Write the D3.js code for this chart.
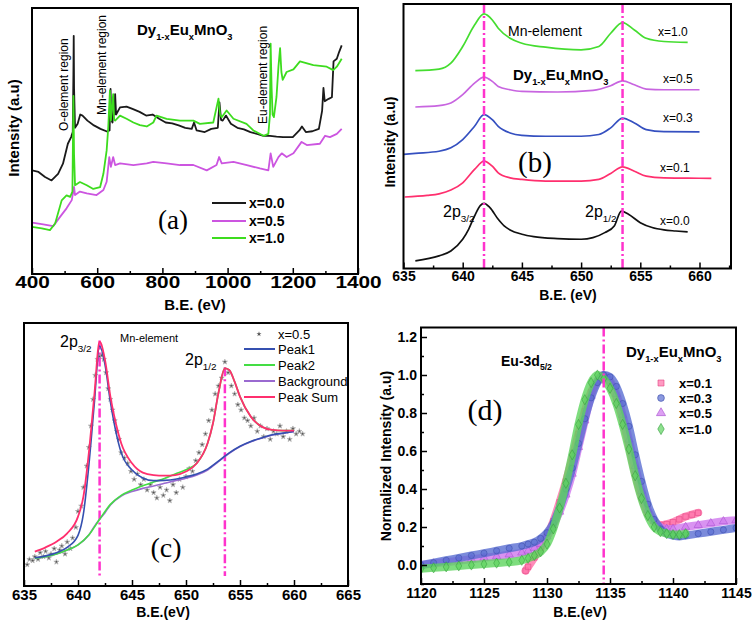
<!DOCTYPE html>
<html><head><meta charset="utf-8">
<script src="https://cdn.jsdelivr.net/npm/d3@7"></script>
<style>
body{margin:0;background:#fff}
svg{display:block}
text{font-family:"Liberation Sans",Arial,Helvetica,sans-serif}
</style>
</head><body>
<svg id="fig" width="756" height="631"></svg>
<script>
// ---------------- DATA ----------------
// Panel (a): survey spectra [B.E. eV, intensity a.u.]
const surveyX00 = [[400,39],[420,38.4],[440,36.5],[460,35.2],[480,37.7],[495,41.5],[510,49],[520,51.5],[525,53.4],[527,75],[528,89.6],[529,70],[532,55],[540,56.5],[548,60],[555,59.6],[570,57.7],[590,55.9],[610,54.6],[630,53.6],[638,54],[641,69.6],[643,58],[647,57],[650,64],[653,60],[655,67.7],[658,60],[670,62.7],[690,63],[710,62],[730,61],[750,59.6],[770,60],[790,58.4],[810,57],[830,56.7],[850,55.9],[870,55],[890,54.6],[897,57],[905,54],[930,53.4],[950,54.6],[970,55],[975,64.6],[980,58],[985,57.7],[995,59.6],[1010,56.5],[1030,55],[1050,54.4],[1070,53.4],[1090,52.7],[1110,52],[1130,52],[1150,51.7],[1170,51.5],[1200,51.5],[1220,54],[1228,55.5],[1240,53.4],[1260,53.7],[1280,54.6],[1290,61.5],[1294,70],[1298,65],[1310,65.9],[1320,66.5],[1325,80],[1335,81],[1342,83.5],[1350,86]];
const surveyX05 = [[400,19.3],[430,18.8],[465,18],[486,21.5],[506,24.7],[522,27.8],[529,32.8],[532,29.7],[547,31],[568,30.3],[598,29.7],[619,31.6],[629,34.7],[637,44],[642,40.3],[649,44],[655,41],[670,41.6],[711,41],[752,41.6],[772,42.2],[813,41.6],[854,41],[895,41],[936,39],[966,41],[974,44],[982,41.6],[1018,42.2],[1059,41],[1099,39.7],[1125,39],[1132,45.4],[1140,40.3],[1156,44],[1166,45.4],[1181,44],[1202,45.4],[1227,49.7],[1243,48.5],[1283,49],[1299,52],[1314,51.5],[1335,52.7],[1350,54.6]];
const surveyX10 = [[400,17.7],[430,17.2],[455,16.5],[471,19],[491,27.7],[506,29.6],[517,29],[524,31],[527,67],[529,45],[532,33.4],[547,34.6],[568,33.4],[588,32],[609,32.7],[619,37.7],[629,46.5],[634,55.3],[639,69],[642,57.7],[649,67.7],[652,58],[655,57.7],[670,59.6],[690,58.4],[711,57],[731,56],[752,55.5],[772,57],[782,59.6],[813,58.4],[854,57.7],[895,57.7],[915,56.5],[956,57],[972,66],[977,60],[982,59],[997,61.5],[1018,58.4],[1058,56.5],[1079,54],[1110,52],[1125,52.7],[1130,60],[1132,86.7],[1135,70],[1138,60],[1142,59],[1150,66.6],[1156,78],[1161,85],[1165,76],[1169,73],[1181,76],[1202,77],[1222,80],[1263,78.6],[1304,78],[1324,76.7],[1335,78],[1350,81]];
const surveyLabels = ["x=0.0","x=0.5","x=1.0"];
const surveyTicks = [400,600,800,1000,1200,1400];

// Panel (b): Mn 2p spectra (stacked)
const mnX00 = [[636,2.9],[638,4.75],[639,6.6],[640,11],[640.5,14.75],[641,19.75],[641.5,23.75],[641.8,24.5],[642.3,22.9],[643,18.5],[643.5,16],[644,14.5],[645,12.9],[646,12],[648,11.25],[650,11],[651,11.6],[652,13.5],[652.8,16],[653.4,21.6],[654,20.4],[655,17.25],[656,15.4],[657,14.5],[658,14.1],[659,13.75]];
const mnX01 = [[635.1,26.9],[637,27.5],[638,28.1],[639,29.5],[640,32.25],[641,37.25],[641.8,40.4],[642.5,38.5],[643,36],[644,34.1],[645,33.5],[647,32.9],[650,32.9],[651.5,33.5],[652.5,35.75],[653.5,38.25],[654.5,36.6],[655.5,34.75],[657,34.1],[659,34],[661,33.9]];
const mnX03 = [[635,42.9],[636,43.3],[638,44.1],[639,45.4],[640,48.5],[641,53.5],[641.8,57.9],[642.5,56],[643,53.5],[644,51],[645,50.1],[647,49.75],[650,49.75],[651.5,50.4],[652.5,52.9],[653.5,56.6],[654.5,54.75],[655.5,52.25],[657,51.5],[660,51.4]];
const mnX05 = [[636,60.75],[638,61.25],[639,62.25],[640,65.4],[641,69.75],[641.8,72],[642.5,70.4],[643,68.5],[644,67.25],[645,66.6],[648,66.4],[651,67],[652.5,68.75],[653.5,70.6],[654.5,69.1],[655.5,67.5],[657,67.25],[660,67.25]];
const mnX10 = [[636,74.4],[638,75],[639,77.25],[640,83.5],[641,91.6],[641.8,95.75],[642.5,93.5],[643,90.4],[644,86.6],[645,84.75],[647,83.25],[650,82.25],[651.5,83.5],[652.5,88.5],[653.5,92.5],[654.5,89.75],[655.5,86.6],[657,85.4],[659,85.1]];
const mnLabels = ["x=0.0","x=0.1","x=0.3","x=0.5","x=1.0"];
const mnPeaks = [641.8, 653.5];
const mnTicks = [635,640,645,650,655,660];

// Panel (c): fit of x=0.5 Mn 2p
const fitData = [[635.3,8],[635.5,10],[635.8,9.5],[636,11],[636.3,10],[636.5,12.5],[636.8,11],[637,13],[637.3,10.5],[637.5,12],[637.8,14],[638,9],[638.3,13.5],[638.5,15],[638.8,12],[639,16.5],[639.3,14],[639.5,18],[639.8,22],[640,28],[640.3,30],[640.5,37],[640.8,45],[641,52],[641.2,60],[641.4,70],[641.6,79],[641.8,85],[642,86],[642.2,86.5],[642.4,85],[642.6,80],[642.8,74],[643,70],[643.2,66],[643.4,62],[643.6,58],[643.8,55],[644,50],[644.3,48],[644.6,46],[644.9,43],[645.2,40],[645.5,42],[645.8,38],[646.1,40],[646.4,36],[646.7,38],[647,35],[647.3,33],[647.6,37],[647.9,34],[648.2,36],[648.5,32],[648.8,38],[649.1,35],[649.4,40],[649.7,37],[650,41],[650.3,44],[650.6,43],[650.9,47],[651.2,50],[651.5,53],[651.8,57],[652.1,62],[652.4,66],[652.7,72],[653,75],[653.3,78],[653.6,84],[653.9,80],[654.2,75],[654.5,72],[654.8,68],[655.1,66],[655.4,63],[655.7,62],[656,60],[656.3,63],[656.6,58],[656.9,60],[657.2,56],[657.5,59],[657.8,55],[658.1,58],[658.4,57],[658.7,60],[659,56],[659.3,58],[659.6,55],[659.9,59],[660.2,57],[660.5,58],[660.8,57]];
const fitPeak1 = [[636,10.6],[637,11.3],[638,12.5],[639,14.5],[640,19],[640.5,27],[641,45],[641.5,68],[642,90],[642.5,83],[643,69],[643.5,58],[644,50],[645,43.5],[646,40.5],[647,39.5],[648,39.6],[649,40],[650,40.9],[651,42],[652,43.8],[653,46.8],[654,49.9],[655,52.4],[656,54.2],[657,55.5],[658,56.7],[659,57.3],[660,57.9]];
const fitPeak2 = [[636,10.4],[637,11],[638,12],[639,13.5],[640,15.4],[641,19.1],[642,25],[643,30.6],[644,34],[645,36],[646,37.6],[647,39],[648,40.3],[649,42],[650,43.6],[651,46],[652,53.5],[652.5,61],[653,72.2],[653.6,81.6],[654,81],[654.5,76.6],[655,71],[656,63.5],[657,59.75],[658,58.5],[659,58.25],[660,58.25]];
const fitBackground = [[636,10.4],[637,11],[638,12],[639,13.5],[640,15.4],[641,19.1],[641.5,22.25],[642,25],[642.5,27.5],[643,30.4],[644,33.75],[645,35.4],[646,36.6],[647,37.5],[648,38.5],[649,39.5],[650,40.4],[651,41.6],[652,43.5],[653,46.6],[654,49.75],[655,52.25],[656,54.1],[657,55.4],[658,56.6],[659,57.25],[660,57.9]];
const fitSum = [[636,12.9],[637,14.5],[638,16.6],[639,19.75],[640,26],[640.5,33.5],[641,49.75],[641.5,71],[642,91.6],[642.5,84.75],[643,71],[643.5,61],[644,53.5],[645,46],[646,42.5],[647,41.6],[648,41.4],[649,41.6],[650,42.9],[651,46],[652,53.5],[652.5,61],[653,72.25],[653.6,81.6],[654,81],[654.5,76.6],[655,71],[656,63.5],[657,59.75],[658,58.5],[659,58.25],[660,58.25]];
const fitLabels = ["x=0.5","Peak1","Peak2","Background","Peak Sum"];
const fitPeaks = [642, 653.6];
const fitTicks = [635,640,645,650,655,660,665];

// Panel (d): Eu 3d5/2 normalized
const euX01 = [[1128.3,-0.03],[1128.5,-0.01],[1129,0.04],[1129.5,0.09],[1130,0.15],[1130.5,0.23],[1131,0.33],[1131.5,0.44],[1132,0.56],[1132.5,0.69],[1133,0.81],[1133.5,0.91],[1134,0.97],[1134.5,0.99],[1135,0.96],[1135.5,0.88],[1136,0.77],[1136.5,0.63],[1137,0.48],[1137.5,0.36],[1138,0.27],[1138.5,0.23],[1139,0.21],[1139.5,0.215],[1140,0.225],[1140.5,0.24],[1141,0.255],[1141.5,0.265],[1142,0.275]];
const euX03 = [[1120,0.0],[1121,0.012],[1122,0.025],[1123,0.037],[1124,0.05],[1125,0.062],[1126,0.075],[1127,0.088],[1128,0.1],[1128.5,0.11],[1129,0.12],[1129.5,0.14],[1130,0.17],[1130.5,0.22],[1131,0.3],[1131.5,0.4],[1132,0.51],[1132.5,0.64],[1133,0.77],[1133.5,0.88],[1134,0.96],[1134.5,1.0],[1135,0.99],[1135.5,0.94],[1136,0.85],[1136.5,0.73],[1137,0.58],[1137.5,0.44],[1138,0.32],[1138.5,0.24],[1139,0.19],[1139.5,0.165],[1140,0.155],[1140.5,0.15],[1141,0.155],[1142,0.165],[1143,0.175],[1144,0.185],[1145,0.195]];
const euX05 = [[1120,0.0],[1121,0.008],[1122,0.015],[1123,0.022],[1124,0.03],[1125,0.038],[1126,0.045],[1127,0.055],[1128,0.065],[1128.5,0.075],[1129,0.09],[1129.5,0.11],[1130,0.15],[1130.5,0.21],[1131,0.28],[1131.5,0.37],[1132,0.48],[1132.5,0.62],[1133,0.76],[1133.5,0.89],[1134,0.97],[1134.5,1.0],[1135,0.97],[1135.5,0.9],[1136,0.79],[1136.5,0.66],[1137,0.52],[1137.5,0.39],[1138,0.29],[1138.5,0.23],[1139,0.2],[1139.5,0.19],[1140,0.19],[1141,0.2],[1142,0.21],[1143,0.22],[1144,0.23],[1145,0.235]];
const euX10 = [[1120,-0.02],[1121,-0.015],[1122,-0.01],[1123,-0.005],[1124,0.0],[1125,0.005],[1126,0.01],[1127,0.015],[1128,0.025],[1128.5,0.035],[1129,0.05],[1129.5,0.07],[1130,0.11],[1130.5,0.19],[1131,0.3],[1131.5,0.43],[1132,0.58],[1132.5,0.74],[1133,0.87],[1133.5,0.96],[1134,1.0],[1134.5,0.98],[1135,0.93],[1135.5,0.85],[1136,0.74],[1136.5,0.61],[1137,0.47],[1137.5,0.35],[1138,0.26],[1138.5,0.2],[1139,0.175],[1139.5,0.165],[1140,0.16],[1140.5,0.16],[1141,0.165]];
const euLabels = ["x=0.1","x=0.3","x=0.5","x=1.0"];
const euPeak = 1134.5;
const euXTicks = [1120,1125,1130,1135,1140,1145];
const euYTicks = [0,0.2,0.4,0.6,0.8,1.0,1.2];

// ---------------- DRAWING ----------------
const svg = d3.select("#fig");
const MAG = "#ff33cc";
let clipId = 0;

function makeClip(x0,y0,x1,y1){
  const id = "clip"+(clipId++);
  svg.append("clipPath").attr("id",id).append("rect")
    .attr("x",x0).attr("y",y0).attr("width",x1-x0).attr("height",y1-y0);
  return "url(#"+id+")";
}
function xAxis(x, yPos, majors, minors, opt){
  const g = svg.append("g").attr("transform",`translate(0,${yPos})`);
  g.call(d3.axisBottom(x).tickValues(minors).tickSize(-3).tickFormat(""));
  const g2 = svg.append("g").attr("transform",`translate(0,${yPos})`);
  g2.call(d3.axisBottom(x).tickValues(majors).tickSize(-6).tickPadding(opt.pad||4).tickFormat(opt.fmt||d3.format("d")));
  [g,g2].forEach(gg=>{gg.select(".domain").remove(); gg.selectAll("line").attr("stroke","#000").attr("stroke-width",1.5);});
  g2.selectAll("text").attr("fill","#000").style("font-size",(opt.fs||14)+"px").style("font-weight","bold")
    .attr("font-family",null);
  if(opt.sx) g2.selectAll("text").attr("transform",`scale(${opt.sx},1)`);
}
function frame(x0,y0,x1,y1){
  svg.append("rect").attr("x",x0).attr("y",y0).attr("width",x1-x0).attr("height",y1-y0)
    .attr("fill","none").attr("stroke","#000").attr("stroke-width",2);
}
function txt(x,y,s,o={}){
  const t = svg.append("text").attr("x",x).attr("y",y).text(s)
    .style("font-size",(o.fs||12)+"px").style("font-weight",o.bold?"bold":"normal")
    .attr("text-anchor",o.anchor||"start").attr("fill",o.fill||"#000");
  if(o.serif) t.style("font-family","'Liberation Serif','Times New Roman',serif");
  if(o.rot) t.attr("transform",`rotate(${o.rot},${x},${y})`);
  return t;
}
// text with subscripts: parts = [[str, isSub], ...]
function subText(x,y,parts,o={}){
  const t = svg.append("text").attr("x",x).attr("y",y)
    .style("font-size",(o.fs||14)+"px").style("font-weight",o.bold?"bold":"normal")
    .attr("text-anchor",o.anchor||"start");
  let prevSub=false;
  parts.forEach(([s,sub])=>{
    const sp = t.append("tspan").text(s);
    const shift = (o.fs||14)*0.3;
    if(sub && !prevSub){ sp.attr("dy",shift).style("font-size",((o.fs||14)*0.62)+"px"); }
    else if(sub){ sp.style("font-size",((o.fs||14)*0.62)+"px"); }
    else if(!sub && prevSub){ sp.attr("dy",-shift); }
    prevSub=sub;
  });
  if(o.rot) t.attr("transform",`rotate(${o.rot},${x},${y})`);
  return t;
}
const formula = [["Dy",0],["1-x",1],["Eu",0],["x",1],["MnO",0],["3",1]];

// ============ Panel (a) ============
{
  const L=32,R=358,T=8,B=274;
  const x = d3.scaleLinear([400,1400],[L,R]);
  const y = d3.scaleLinear([0,100],[B,T+0.2]);
  const clip = makeClip(L,T,R,B);
  const line = d3.line().x(d=>x(d[0])).y(d=>y(d[1]));
  const series = [[surveyX00,"#1a1a1a"],[surveyX05,"#cc55e0"],[surveyX10,"#3ddc1e"]];
  const gl = svg.append("g").attr("clip-path",clip);
  [series[1],series[0],series[2]].forEach(([d,c])=>{
    gl.append("path").attr("d",line(d)).attr("fill","none").attr("stroke",c).attr("stroke-width",1.8).attr("stroke-linejoin","round");
  });
  frame(L,T,R,B);
  xAxis(x,B,surveyTicks,[500,700,900,1100,1300],{fs:16,sx:1.3,pad:3});
  txt(14,128,"Intensity (a.u)",{fs:15,bold:true,anchor:"middle",rot:-90}).attr("dy","0.35em");
  txt(195,310,"B.E. (eV)",{fs:15,bold:true,anchor:"middle"});
  txt(68,131,"O-element region",{fs:12,rot:-90});
  txt(106,115,"Mn-element region",{fs:12,rot:-90});
  txt(267,124,"Eu-element region",{fs:12,rot:-90});
  subText(137,35,formula,{fs:15,bold:true});
  txt(173,229,"(a)",{fs:27,serif:true,anchor:"middle"});
  const lg = [[203,"#1a1a1a"],[221,"#cc55e0"],[238,"#3ddc1e"]];
  lg.forEach(([yy,c],i)=>{
    svg.append("line").attr("x1",212).attr("x2",246).attr("y1",yy).attr("y2",yy).attr("stroke",c).attr("stroke-width",2);
    txt(249,yy+5,surveyLabels[i],{fs:14,bold:true});
  });
}

// ============ Panel (b) ============
{
  const L=403.5,R=731,T=4,B=268.5;
  const x = d3.scaleLinear([635,662.66],[L,R]);
  const y = d3.scaleLinear([0,99.5],[B,T]);
  const clip = makeClip(L,T,R,B);
  const line = d3.line().x(d=>x(d[0])).y(d=>y(d[1])).curve(d3.curveMonotoneX);
  const gl = svg.append("g").attr("clip-path",clip);
  const cols = ["#111","#ff2f6e","#3550c0","#c865e0","#45dd30"];
  [mnX00,mnX01,mnX03,mnX05,mnX10].forEach((d,i)=>{
    gl.append("path").attr("d",line(d)).attr("fill","none").attr("stroke",cols[i]).attr("stroke-width",1.7);
  });
  mnPeaks.forEach(p=>{
    gl.append("line").attr("x1",x(p)).attr("x2",x(p)).attr("y1",T).attr("y2",B)
      .attr("stroke",MAG).attr("stroke-width",2.5).attr("stroke-dasharray","9,3,2,3");
  });
  frame(L,T,R,B);
  xAxis(x,B,mnTicks,[637.5,642.5,647.5,652.5,657.5,662.5],{fs:14,pad:3});
  txt(390,142,"Intensity (a.u)",{fs:14,bold:true,anchor:"middle",rot:-90}).attr("dy","0.35em");
  txt(568,300,"B.E. (eV)",{fs:14,bold:true,anchor:"middle"});
  txt(508,36,"Mn-element",{fs:14});
  subText(513,80,formula,{fs:15,bold:true});
  const lab = [[660,225],[660,172],[663,122],[663,83],[658,36]];
  lab.forEach(([lx,ly],i)=>txt(lx,ly,mnLabels[i],{fs:12}));
  txt(535,172,"(b)",{fs:29,serif:true,anchor:"middle"});
  subText(443,217,[["2p",0],["3/2",1]],{fs:16});
  subText(585,217,[["2p",0],["1/2",1]],{fs:16});
}

// ============ Panel (c) ============
{
  const L=24,R=348,T=323,B=586;
  const x = d3.scaleLinear([635,665],[L,R]);
  const y = d3.scaleLinear([0,98.6],[B,T]);
  const clip = makeClip(L,T,R,B);
  const line = d3.line().x(d=>x(d[0])).y(d=>y(d[1])).curve(d3.curveMonotoneX);
  const gl = svg.append("g").attr("clip-path",clip);
  gl.selectAll("path.pt").data(fitData).join("path").attr("class","pt")
    .attr("d",d3.symbol(d3.symbolStar,8))
    .attr("transform",d=>`translate(${x(d[0])},${y(d[1])})`)
    .attr("fill","#333").attr("stroke","#aaa").attr("stroke-width",0.8).attr("opacity",0.85);
  fitPeaks.forEach(p=>{
    gl.append("line").attr("x1",x(p)).attr("x2",x(p)).attr("y1",y(p<650?92:82)).attr("y2",B-10)
      .attr("stroke",MAG).attr("stroke-width",2.5).attr("stroke-dasharray","9,3,2,3");
  });
  gl.append("path").attr("d",line(fitBackground)).attr("fill","none").attr("stroke","#9a6ad0").attr("stroke-width",1.6);
  gl.append("path").attr("d",line(fitPeak2)).attr("fill","none").attr("stroke","#44dd44").attr("stroke-width",1.6);
  gl.append("path").attr("d",line(fitPeak1)).attr("fill","none").attr("stroke","#3550b0").attr("stroke-width",1.6);
  gl.append("path").attr("d",line(fitSum)).attr("fill","none").attr("stroke","#ff2f6e").attr("stroke-width",1.8);
  frame(L,T,R,B);
  xAxis(x,B,fitTicks,[637.5,642.5,647.5,652.5,657.5,662.5],{fs:15,pad:3});
  txt(163,617,"B.E.(eV)",{fs:14,bold:true,anchor:"middle"});
  subText(60,347,[["2p",0],["3/2",1]],{fs:16});
  subText(185,365,[["2p",0],["1/2",1]],{fs:16});
  txt(120,342,"Mn-element",{fs:11});
  txt(166,557,"(c)",{fs:28,serif:true,anchor:"middle"});
  // legend
  svg.append("path").attr("d",d3.symbol(d3.symbolStar,8)).attr("transform","translate(259,334)").attr("fill","#555");
  txt(278,339,fitLabels[0],{fs:13});
  const lc = [[349,"#3550b0"],[365,"#44dd44"],[381,"#9a6ad0"],[397,"#ff2f6e"]];
  lc.forEach(([yy,c],i)=>{
    svg.append("line").attr("x1",244).attr("x2",275).attr("y1",yy).attr("y2",yy).attr("stroke",c).attr("stroke-width",2);
    txt(278,yy+5,fitLabels[i+1],{fs:13});
  });
}

// ============ Panel (d) ============
{
  const L=421,R=736,T=327.5,B=584;
  const x = d3.scaleLinear([1120,1145],[L,R]);
  const y = d3.scaleLinear([-0.1,1.25],[B,T]);
  const clip = makeClip(L,T,R,B);
  const line = d3.line().x(d=>x(d[0])).y(d=>y(d[1])).curve(d3.curveMonotoneX);
  const gl = svg.append("g").attr("clip-path",clip);
  const sets = [
    [euX01,"#ff6fa8","#e0407f",d3.symbolSquare],
    [euX05,"#cf78ee","#a54ccc",d3.symbolTriangle],
    [euX03,"#5a6ed2","#3a4aa8",d3.symbolCircle],
    [euX10,"#5ed45e","#2e9a38",d3.symbolDiamond]
  ];
  sets.forEach(([d,fc,sc,sym])=>{
    gl.append("path").attr("d",line(d)).attr("fill","none").attr("stroke",fc).attr("stroke-width",8).attr("opacity",0.8).attr("stroke-linecap","round");
    gl.selectAll(null).data(d).join("path").attr("d",d3.symbol(sym,30))
      .attr("transform",p=>`translate(${x(p[0])},${y(p[1])})`)
      .attr("fill",fc).attr("fill-opacity",0.6).attr("stroke",sc).attr("stroke-opacity",0.7).attr("stroke-width",0.7);
  });
  gl.append("line").attr("x1",x(euPeak)).attr("x2",x(euPeak)).attr("y1",T).attr("y2",B)
    .attr("stroke",MAG).attr("stroke-width",2.5).attr("stroke-dasharray","9,3,2,3");
  frame(L,T,R,B);
  xAxis(x,B,euXTicks,[1122.5,1127.5,1132.5,1137.5,1142.5],{fs:14,pad:4});
  // y axis
  const gm = svg.append("g").attr("transform",`translate(${L},0)`)
    .call(d3.axisLeft(y).tickValues([-0.1,0.1,0.3,0.5,0.7,0.9,1.1]).tickSize(-3).tickFormat(""));
  const gM = svg.append("g").attr("transform",`translate(${L},0)`)
    .call(d3.axisLeft(y).tickValues(euYTicks).tickSize(-6).tickPadding(4).tickFormat(d3.format(".1f")));
  [gm,gM].forEach(g=>{g.select(".domain").remove(); g.selectAll("line").attr("stroke","#000").attr("stroke-width",1.5);});
  gM.selectAll("text").attr("fill","#000").style("font-size","14px").style("font-weight","bold").attr("font-family",null);
  txt(386,456,"Normalized Intensity (a.u)",{fs:14,bold:true,anchor:"middle",rot:-90}).attr("dy","0.35em");
  txt(580,617,"B.E.(eV)",{fs:14,bold:true,anchor:"middle"});
  subText(501,366,[["Eu-3d",0],["5/2",1]],{fs:14,bold:true});
  subText(626,357,formula,{fs:15,bold:true});
  txt(485,420,"(d)",{fs:30,serif:true,anchor:"middle"});
  const lgd = [383,398,413,429];
  const order = [sets[0],sets[2],sets[1],sets[3]];
  order.forEach(([d,fc,sc,sym],i)=>{
    const yy = lgd[i];
    svg.append("path").attr("d",d3.symbol(sym,36)).attr("transform",`translate(661,${yy})`)
      .attr("fill",fc).attr("fill-opacity",0.7).attr("stroke",sc).attr("stroke-width",0.6);
    txt(679,yy+5,euLabels[i],{fs:13,bold:true});
  });
}
</script>
</body></html>
